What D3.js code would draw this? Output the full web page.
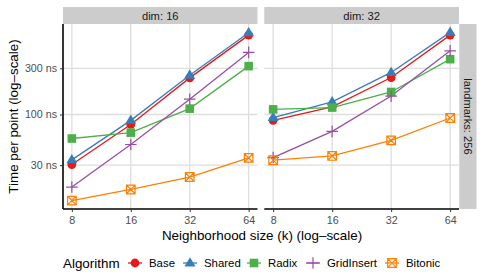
<!DOCTYPE html>
<html><head><meta charset="utf-8">
<script src="https://cdn.jsdelivr.net/npm/d3@7"></script>
<style>body{margin:0;background:#fff}svg{display:block}text{font-family:"Liberation Sans",Arial,sans-serif}</style>
</head><body>
<script>
const ks = [8, 16, 32, 64];
const dims = ["dim: 16", "dim: 32"];
const rowLabel = "landmarks: 256";
const algorithms = ["Base", "Shared", "Radix", "GridInsert", "Bitonic"];
const colors = ["#E41A1C", "#377EB8", "#4DAF4A", "#984EA3", "#FF7F00"];
const yTicks = [30, 100, 300];
const yTickLabels = ["30 ns", "100 ns", "300 ns"];
// values per algorithm, ns, for dim 16
const dim16 = {
  Base:       [30.4, 79, 239, 661],
  Shared:     [34, 87, 255, 698],
  Radix:      [56.5, 65, 115, 316],
  GridInsert: [17.8, 49, 144, 438],
  Bitonic:    [12.9, 16.8, 22.6, 35.6]
};
// values per algorithm, ns, for dim 32
const dim32 = {
  Base:       [87, 120, 241, 661],
  Shared:     [93, 135, 272, 705],
  Radix:      [113, 118, 171, 373],
  GridInsert: [35.9, 67, 155, 455],
  Bitonic:    [33.7, 37.3, 54, 92]
};
const panelData = [dim16, dim32];

const W = 483, H = 277;
const svg = d3.select("body").append("svg").attr("width", W).attr("height", H);

const panels = [{x0: 63, x1: 257.5}, {x0: 264.3, x1: 459}];
const pTop = 24, pBot = 209, stripTop = 7;
const allVals = panelData.flatMap(p => algorithms.flatMap(a => p[a]));
const lmin = Math.log10(d3.min(allVals)), lmax = Math.log10(d3.max(allVals));
const ex = (lmax - lmin) * 0.05;
const y = d3.scaleLog().domain([Math.pow(10, lmin - ex), Math.pow(10, lmax + ex)]).range([pBot, pTop]);
const xl0 = Math.log2(8), xl1 = Math.log2(64), xe = (xl1 - xl0) * 0.05;

const gridCol = "#dedede";
const stripCol = "#cccccc";
const FONT = "Liberation Sans, Arial, sans-serif";

function drawShape(g, i, cx, cy, col, s) {
  s = s || 1;
  if (i === 0) {
    g.append("circle").attr("cx", cx).attr("cy", cy).attr("r", 4.4 * s).attr("fill", col);
  } else if (i === 1) {
    const r = 5.8 * s;
    g.append("path").attr("d", `M${cx},${cy - r}L${cx + r * 0.95},${cy + r * 0.6}L${cx - r * 0.95},${cy + r * 0.6}Z`).attr("fill", col);
  } else if (i === 2) {
    const h = 4.3 * s;
    g.append("rect").attr("x", cx - h).attr("y", cy - h).attr("width", 2 * h).attr("height", 2 * h).attr("fill", col);
  } else if (i === 3) {
    const h = 5.8 * s;
    g.append("path").attr("d", `M${cx - h},${cy}H${cx + h}M${cx},${cy - h}V${cy + h}`).attr("stroke", col).attr("stroke-width", 1.2).attr("fill", "none");
  } else {
    const h = 4.3 * s;
    g.append("path").attr("d", `M${cx - h},${cy - h}H${cx + h}V${cy + h}H${cx - h}ZM${cx - h},${cy - h}L${cx + h},${cy + h}M${cx + h},${cy - h}L${cx - h},${cy + h}`).attr("stroke", col).attr("stroke-width", 1.2).attr("fill", "none");
  }
}

panels.forEach((p, pi) => {
  const x = d3.scaleLog().base(2).domain([Math.pow(2, xl0 - xe), Math.pow(2, xl1 + xe)]).range([p.x0, p.x1]);
  const g = svg.append("g");
  // strip
  g.append("rect").attr("x", p.x0).attr("y", stripTop).attr("width", p.x1 - p.x0).attr("height", pTop - stripTop).attr("fill", stripCol);
  g.append("text").attr("x", (p.x0 + p.x1) / 2).attr("y", 19.6).attr("text-anchor", "middle").attr("font-size", 11.2).attr("fill", "#1a1a1a").text(dims[pi]);
  // grid
  yTicks.forEach(t => g.append("line").attr("x1", p.x0).attr("x2", p.x1).attr("y1", y(t)).attr("y2", y(t)).attr("stroke", gridCol).attr("stroke-width", 1.3));
  ks.forEach(k => g.append("line").attr("x1", x(k)).attr("x2", x(k)).attr("y1", pTop).attr("y2", pBot).attr("stroke", gridCol).attr("stroke-width", 1.3));
  // bottom axis
  const xa = g.append("g").attr("transform", `translate(0,${pBot})`).call(d3.axisBottom(x).tickValues(ks).tickFormat(d3.format("d")).tickSize(3).tickPadding(2));
  xa.select(".domain").attr("stroke", "#000").attr("stroke-width", 1.6).attr("d", `M${p.x0},0H${p.x1}`);
  xa.selectAll(".tick line").attr("stroke", "#333").attr("stroke-width", 1);
  xa.selectAll(".tick text").attr("font-size", 10.7).attr("fill", "#4d4d4d").attr("font-family", FONT).attr("dy", null).attr("y", 15);
  if (pi === 0) {
    const ya = g.append("g").attr("transform", `translate(${p.x0},0)`).call(d3.axisLeft(y).tickValues(yTicks).tickFormat((d, i) => yTickLabels[i]).tickSize(3).tickPadding(3));
    ya.select(".domain").attr("stroke", "#000").attr("stroke-width", 1.6).attr("d", `M0,${pTop}V${pBot}`);
    ya.selectAll(".tick line").attr("stroke", "#333").attr("stroke-width", 1);
    ya.selectAll(".tick text").attr("font-size", 10.7).attr("fill", "#4d4d4d").attr("font-family", FONT);
  }
  // lines
  const data = panelData[pi];
  const line = d3.line().x((d, i) => x(ks[i])).y(d => y(d));
  algorithms.forEach((a, ai) => {
    g.append("path").attr("d", line(data[a])).attr("fill", "none").attr("stroke", colors[ai]).attr("stroke-width", 1.3);
  });
  algorithms.forEach((a, ai) => {
    data[a].forEach((v, i) => drawShape(g, ai, x(ks[i]), y(v), colors[ai]));
  });
});

// right strip
svg.append("rect").attr("x", 459.3).attr("y", pTop).attr("width", 17.2).attr("height", pBot - pTop).attr("fill", stripCol);
svg.append("text").attr("transform", `translate(463.8,${(pTop + pBot) / 2}) rotate(90)`).attr("text-anchor", "middle").attr("font-size", 11.2).attr("fill", "#1a1a1a").text(rowLabel);

// axis titles
svg.append("text").attr("x", 262).attr("y", 239.5).attr("text-anchor", "middle").attr("font-size", 13.4).attr("fill", "#000").text("Neighborhood size (k) (log\u2013scale)");
svg.append("text").attr("transform", `translate(17.5,${(pTop + pBot) / 2}) rotate(-90)`).attr("text-anchor", "middle").attr("font-size", 13.4).attr("fill", "#000").text("Time per point (log\u2013scale)");

// legend
const ly = 263;
svg.append("text").attr("x", 63).attr("y", 267.5).attr("font-size", 13.4).attr("fill", "#000").text("Algorithm");
const keyX = [135, 190, 254, 313, 392];
algorithms.forEach((a, ai) => {
  const cx = keyX[ai];
  svg.append("line").attr("x1", cx - 7).attr("x2", cx + 7).attr("y1", ly).attr("y2", ly).attr("stroke", colors[ai]).attr("stroke-width", 1.3);
  drawShape(svg, ai, cx, ly, colors[ai]);
  svg.append("text").attr("x", cx + 14).attr("y", ly + 4).attr("font-size", 11.4).attr("fill", "#000").text(a);
});
</script>
</body></html>
